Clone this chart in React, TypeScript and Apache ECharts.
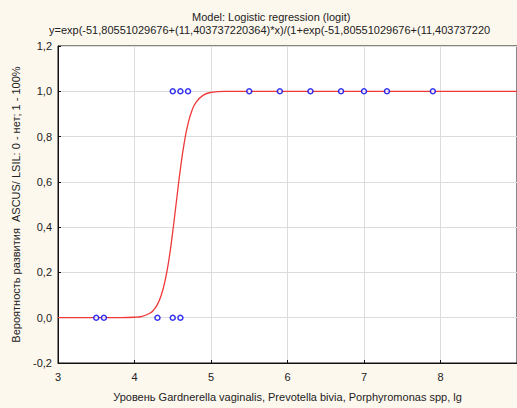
import React, { useEffect, useRef } from "react";
import * as echarts from "echarts";

const titleText = "Model: Logistic regression (logit)";
const equationText = "y=exp(-51,80551029676+(11,403737220364)*x)/(1+exp(-51,80551029676+(11,403737220";
const xAxisName = "Уровень Gardnerella vaginalis, Prevotella bivia, Porphyromonas spp, lg";
const yAxisName = "Вероятность развития  ASCUS/ LSIL: 0 - нет; 1 - 100%";

// observed points
const obsX = [3.5, 3.6, 4.3, 4.5, 4.6, 4.5, 4.6, 4.7, 5.5, 5.9, 6.3, 6.7, 7.0, 7.3, 7.9];
const obsY = [0, 0, 0, 0, 0, 1, 1, 1, 1, 1, 1, 1, 1, 1, 1];

// fitted curve
const curveX = [3.0, 3.5, 3.8, 4.0, 4.1, 4.2, 4.25, 4.3, 4.35, 4.4, 4.45, 4.5, 4.55, 4.6, 4.65, 4.7, 4.75, 4.8, 4.9, 5.0, 5.2, 5.5, 6.0, 7.0, 8.0, 9.0];
const curveY = [0.0, 0.0, 0.0002, 0.002, 0.0064, 0.0197, 0.034, 0.059, 0.1, 0.164, 0.257, 0.38, 0.52, 0.657, 0.772, 0.857, 0.914, 0.949, 0.983, 0.995, 0.9994, 1.0, 1.0, 1.0, 1.0, 1.0];

const fmt = (v: number) => v.toFixed(1).replace(".", ",");

export default function App() {
  const ref = useRef<HTMLDivElement>(null);
  useEffect(() => {
    if (!ref.current) return;
    const chart = echarts.init(ref.current, undefined, { renderer: "svg" });
    const font = "Liberation Sans, Arial, sans-serif";
    chart.setOption({
      animation: false,
      backgroundColor: "#fdf8ee",
      textStyle: { fontFamily: font },
      graphic: [
        {
          type: "text",
          left: 192,
          top: 11,
          style: { text: titleText, fontSize: 11, fill: "#222", fontFamily: font },
        },
        {
          type: "text",
          left: 49,
          top: 24,
          style: { text: equationText, fontSize: 11, fill: "#222", fontFamily: font },
        },
      ],
      grid: {
        left: 58,
        top: 46,
        width: 461.5,
        bottom: 45,
        show: true,
        backgroundColor: "#ffffff",
        borderColor: "#111",
        borderWidth: 1,
      },
      xAxis: {
        type: "value",
        min: 3,
        max: 9,
        interval: 1,
        name: xAxisName,
        nameLocation: "middle",
        nameGap: 28,
        nameTextStyle: { fontSize: 11, color: "#222", fontFamily: font },
        axisLine: { show: true, onZero: false, lineStyle: { color: "#111" } },
        axisTick: { show: true, inside: true, length: 3, lineStyle: { color: "#111" } },
        axisLabel: { fontSize: 11, color: "#222", margin: 8, showMaxLabel: false, fontFamily: font },
        splitLine: { show: true, lineStyle: { color: "#dcdcdc", width: 1 } },
      },
      yAxis: {
        type: "value",
        min: -0.2,
        max: 1.2,
        interval: 0.2,
        name: yAxisName,
        nameLocation: "middle",
        nameGap: 37,
        nameTextStyle: { fontSize: 11, color: "#222", fontFamily: font },
        axisLine: { show: true, onZero: false, lineStyle: { color: "#111" } },
        axisTick: { show: true, inside: true, length: 3, lineStyle: { color: "#111" } },
        axisLabel: { fontSize: 11, color: "#222", margin: 6, formatter: (v: number) => fmt(v), fontFamily: font },
        splitLine: { show: true, lineStyle: { color: "#dcdcdc", width: 1 } },
      },
      series: [
        {
          type: "line",
          data: curveX.map((x, i) => [x, curveY[i]]),
          smooth: true,
          showSymbol: false,
          lineStyle: { color: "#f03838", width: 1.3 },
          z: 2,
        },
        {
          type: "scatter",
          data: obsX.map((x, i) => [x, obsY[i]]),
          symbol: "circle",
          symbolSize: 5,
          itemStyle: { color: "#ffffff", borderColor: "#0000ee", borderWidth: 1.5 },
          z: 3,
        },
      ],
    });
    return () => chart.dispose();
  }, []);
  return (
    <div
      ref={ref}
      style={{ position: "fixed", left: 0, top: 0, width: 517, height: 408 }}
    />
  );
}
